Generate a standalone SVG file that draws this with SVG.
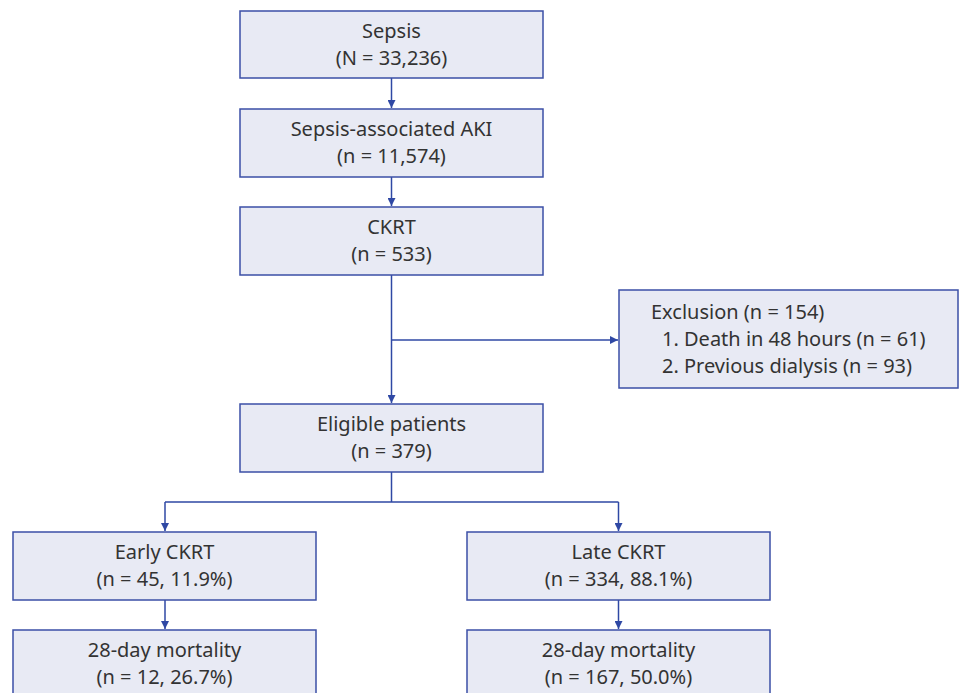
<svg xmlns="http://www.w3.org/2000/svg" width="960" height="693" viewBox="0 0 960 693">
<style>
.box{fill:#e8eaf4;stroke:#3b4fa6;stroke-width:1.5}
.t{font-family:"Noto Sans","Open Sans",sans-serif;font-size:20px;fill:#333;text-anchor:middle}
.tl{font-family:"Noto Sans","Open Sans",sans-serif;font-size:20px;fill:#333}
.c{fill:none;stroke:#2f48a4;stroke-width:1.5}
</style>
<defs>
<marker id="ah" viewBox="0 0 10 10" refX="10" refY="5" markerWidth="8" markerHeight="8" orient="auto" markerUnits="userSpaceOnUse">
<path d="M0,0 L10,5 L0,10 Z" fill="#2f48a4"/>
</marker>
</defs>
<rect width="960" height="693" fill="#fff"/>
<g id="connectors">
<path class="c" d="M391.5,78 V108" marker-end="url(#ah)"/>
<path class="c" d="M391.5,177 V206" marker-end="url(#ah)"/>
<path class="c" d="M391.5,275 V403" marker-end="url(#ah)"/>
<path class="c" d="M391.5,340 H618" marker-end="url(#ah)"/>
<path class="c" d="M391.5,472 V502 M165,502 H618.5"/>
<path class="c" d="M165,502 V531" marker-end="url(#ah)"/>
<path class="c" d="M618.5,502 V531" marker-end="url(#ah)"/>
<path class="c" d="M165,600 V629" marker-end="url(#ah)"/>
<path class="c" d="M618.5,600 V629" marker-end="url(#ah)"/>
</g>
<g id="sepsis"><rect class="box" x="240" y="11" width="303" height="67"/>
<text class="t" x="391.5" y="38">Sepsis</text><text class="t" x="391.5" y="65">(N = 33,236)</text></g>
<g id="aki"><rect class="box" x="240" y="109" width="303" height="68"/>
<text class="t" x="391.5" y="136">Sepsis-associated AKI</text><text class="t" x="391.5" y="163">(n = 11,574)</text></g>
<g id="ckrt"><rect class="box" x="240" y="207" width="303" height="68"/>
<text class="t" x="391.5" y="234">CKRT</text><text class="t" x="391.5" y="261">(n = 533)</text></g>
<g id="exclusion"><rect class="box" x="619" y="290" width="339" height="98"/>
<text class="tl" x="651" y="319">Exclusion (n = 154)</text>
<text class="tl" x="662" y="346">1. Death in 48 hours (n = 61)</text>
<text class="tl" x="662" y="373">2. Previous dialysis (n = 93)</text></g>
<g id="eligible"><rect class="box" x="240" y="404" width="303" height="68"/>
<text class="t" x="391.5" y="431">Eligible patients</text><text class="t" x="391.5" y="458">(n = 379)</text></g>
<g id="early"><rect class="box" x="13" y="532" width="303" height="68"/>
<text class="t" x="164.5" y="559">Early CKRT</text><text class="t" x="164.5" y="586">(n = 45, 11.9%)</text></g>
<g id="late"><rect class="box" x="467" y="532" width="303" height="68"/>
<text class="t" x="618.5" y="559">Late CKRT</text><text class="t" x="618.5" y="586">(n = 334, 88.1%)</text></g>
<g id="early-mortality"><rect class="box" x="13" y="630" width="303" height="68"/>
<text class="t" x="164.5" y="657">28-day mortality</text><text class="t" x="164.5" y="684">(n = 12, 26.7%)</text></g>
<g id="late-mortality"><rect class="box" x="467" y="630" width="303" height="68"/>
<text class="t" x="618.5" y="657">28-day mortality</text><text class="t" x="618.5" y="684">(n = 167, 50.0%)</text></g>
</svg>
